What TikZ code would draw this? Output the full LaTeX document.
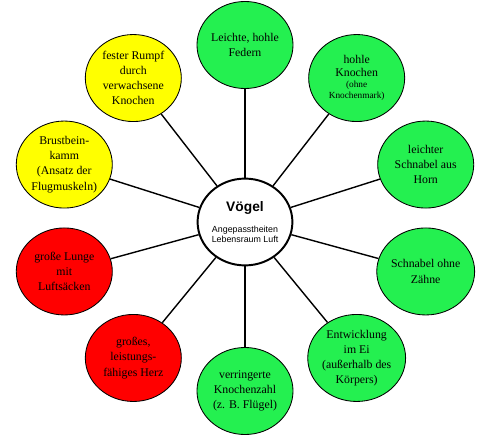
\documentclass[tikz,border=0pt]{standalone}
\usepackage{fontspec}
\setmainfont{Liberation Serif}
\newfontfamily\centersans{Liberation Sans}
\definecolor{birdgreen}{RGB}{36, 240, 80}
\definecolor{birdyellow}{RGB}{255, 255, 0}
\definecolor{birdred}{RGB}{255, 0, 0}
\newcommand{\smalltrait}{\fontsize{6.6}{7}\selectfont}
\usetikzlibrary{shapes.geometric}

\begin{document}
\begin{tikzpicture}[x=0.025cm, y=0.025cm,
    trait/.style={ellipse, draw, line width=0.6pt, minimum width=2.4cm, minimum height=2.175cm, inner sep=0pt, align=center, font=\fontsize{8.4}{10.8}\selectfont},
    hub/.style={ellipse, draw, line width=1.4pt, fill=white, minimum width=2.37cm, minimum height=2.17cm, inner sep=0pt, align=center, font=\centersans\fontsize{6.3}{6.6}\selectfont},
    link/.style={line width=1pt}]
        \useasboundingbox (-245,-224) rectangle (235,218);
        \node [hub] (voegel) at (0,-4) {{\bfseries\fontsize{9.8}{11}\selectfont Vögel}\\[7.5pt]Angepasstheiten\\Lebensraum Luft};

        \node [trait, fill=birdgreen] (federn) at (90:190 and 173) {Leichte, hohle\\Federn};
        \node [trait, fill=birdgreen] (knochen) at (54:190 and 173) {hohle\\[-1.5pt]Knochen\\[-3.3pt]{\smalltrait (ohne}\\[-3pt]{\smalltrait Knochenmark)}};
        \node [trait, fill=birdgreen] (horn) at (18:190 and 173) {leichter\\Schnabel aus\\Horn};
        \node [trait, fill=birdgreen] (zaehne) at (-18:190 and 173) {Schnabel ohne\\Zähne};
        \node [trait, fill=birdgreen] (ei) at (-54:190 and 173) {Entwicklung\\im Ei\\(außerhalb des\\Körpers)};
        \node [trait, fill=birdgreen] (zahl) at (-90:190 and 173) {verringerte\\Knochenzahl\\(z. B. Flügel)};
        \node [trait, fill=birdred] (herz) at (-126:190 and 173) {großes,\\leistungs-\\fähiges Herz};
        \node [trait, fill=birdred] (lunge) at (-162:190 and 173) {große Lunge\\mit\\Luftsäcken};
        \node [trait, fill=birdyellow] (kamm) at (162:190 and 173) {Brustbein-\\kamm\\(Ansatz der\\Flugmuskeln)};
        \node [trait, fill=birdyellow] (rumpf) at (126:190 and 173) {fester Rumpf\\durch\\verwachsene\\Knochen};

        \draw [link] (voegel) -- (federn);
        \draw [link] (voegel) -- (knochen);
        \draw [link] (voegel) -- (horn);
        \draw [link] (voegel) -- (zaehne);
        \draw [link] (voegel) -- (ei);
        \draw [link] (voegel) -- (zahl);
        \draw [link] (voegel) -- (herz);
        \draw [link] (voegel) -- (lunge);
        \draw [link] (voegel) -- (kamm);
        \draw [link] (voegel) -- (rumpf);
    \end{tikzpicture}
\end{document}
